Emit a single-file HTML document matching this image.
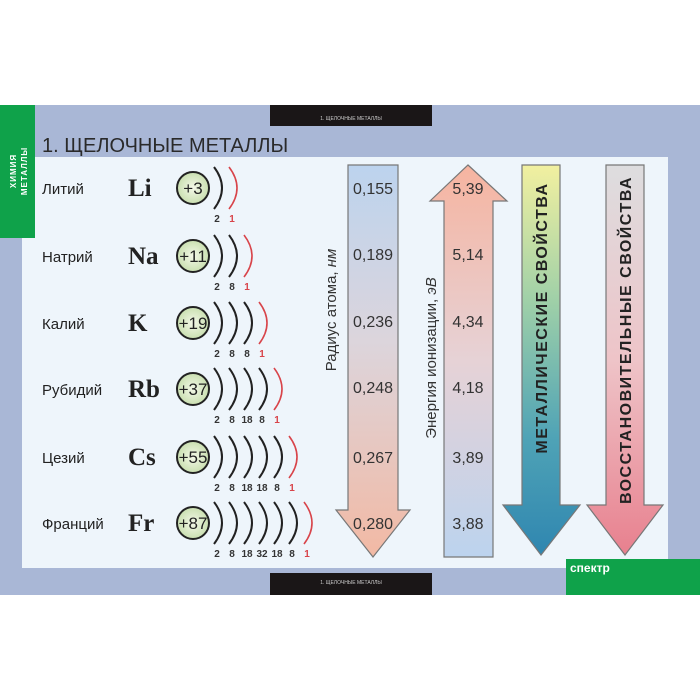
<!DOCTYPE html>
<html><head><meta charset="utf-8"><style>body{margin:0;background:#fff}svg{display:block}</style></head><body>
<svg width="700" height="700" xmlns="http://www.w3.org/2000/svg" xmlns:xlink="http://www.w3.org/1999/xlink" font-family="Liberation Sans, sans-serif">
<defs>
<linearGradient id="g1" x1="0" y1="0" x2="0" y2="1"><stop offset="0" stop-color="#bcd3ee"/><stop offset="0.45" stop-color="#dcd5dc"/><stop offset="1" stop-color="#f2b9a4"/></linearGradient>
<linearGradient id="g2" x1="0" y1="0" x2="0" y2="1"><stop offset="0" stop-color="#f6b4a0"/><stop offset="0.5" stop-color="#e6d2d6"/><stop offset="1" stop-color="#bcd3ee"/></linearGradient>
<linearGradient id="g3" x1="0" y1="0" x2="0" y2="1"><stop offset="0" stop-color="#f2f0a0"/><stop offset="0.35" stop-color="#9fd0a8"/><stop offset="0.7" stop-color="#4fa3b6"/><stop offset="1" stop-color="#2f86b0"/></linearGradient>
<linearGradient id="g4" x1="0" y1="0" x2="0" y2="1"><stop offset="0" stop-color="#dddddf"/><stop offset="0.5" stop-color="#eec4c8"/><stop offset="1" stop-color="#e8808e"/></linearGradient>
<radialGradient id="nuc"><stop offset="0" stop-color="#f4f8e8"/><stop offset="1" stop-color="#c9dfb0"/></radialGradient>
<path id="a" d="M0 -21 Q16 0 0 21" fill="none" stroke="#222" stroke-width="2"/>
<path id="r" d="M0 -21 Q16 0 0 21" fill="none" stroke="#d8444a" stroke-width="1.6"/>
<circle id="n" r="16" fill="url(#nuc)" stroke="#222" stroke-width="2"/>
</defs>
<rect x="0" y="105" width="700" height="490" fill="#a9b7d6"/>
<rect x="22" y="157" width="646" height="411" fill="#eef5fb"/>
<rect x="0" y="105" width="35" height="133" fill="#0fa24a"/>
<text transform="translate(16,171) rotate(-90)" font-size="8" fill="#fff" font-weight="bold" text-anchor="middle" letter-spacing="1">ХИМИЯ</text>
<text transform="translate(27,171) rotate(-90)" font-size="8" fill="#fff" font-weight="bold" text-anchor="middle" letter-spacing="1">МЕТАЛЛЫ</text>
<rect x="270" y="105" width="162" height="21" fill="#1a1617"/>
<text x="351" y="120" font-size="5" fill="#ccc" text-anchor="middle">1. ЩЕЛОЧНЫЕ МЕТАЛЛЫ</text>
<rect x="270" y="573" width="162" height="22" fill="#1a1617"/>
<text x="351" y="584" font-size="5" fill="#ccc" text-anchor="middle">1. ЩЕЛОЧНЫЕ МЕТАЛЛЫ</text>
<rect x="566" y="559" width="134" height="36" fill="#0fa24a"/>
<text x="570" y="572" font-size="12" fill="#fff" font-weight="bold">спектр</text>
<text x="42" y="152" font-size="20" fill="#2a2a2a">1. ЩЕЛОЧНЫЕ  МЕТАЛЛЫ</text>

<g font-size="15" fill="#222">
<text x="42" y="194">Литий</text><text x="42" y="262">Натрий</text><text x="42" y="329">Калий</text>
<text x="42" y="395">Рубидий</text><text x="42" y="463">Цезий</text><text x="42" y="529">Франций</text>
</g>
<g font-family="Liberation Serif, serif" font-weight="bold" font-size="25" fill="#222">
<text x="128" y="196">Li</text><text x="128" y="264">Na</text><text x="128" y="331">K</text>
<text x="128" y="397">Rb</text><text x="128" y="465">Cs</text><text x="128" y="531">Fr</text>
</g>

<g font-size="17" text-anchor="middle" fill="#222">
<use xlink:href="#n" x="193" y="188"/><text x="193" y="194">+3</text>
<use xlink:href="#n" x="193" y="256"/><text x="193" y="262">+11</text>
<use xlink:href="#n" x="193" y="323"/><text x="193" y="329">+19</text>
<use xlink:href="#n" x="193" y="389"/><text x="193" y="395">+37</text>
<use xlink:href="#n" x="193" y="457"/><text x="193" y="463">+55</text>
<use xlink:href="#n" x="193" y="523"/><text x="193" y="529">+87</text>
</g>
<!-- arcs -->
<use xlink:href="#a" x="214" y="188"/><use xlink:href="#r" x="229" y="188"/>
<use xlink:href="#a" x="214" y="256"/><use xlink:href="#a" x="229" y="256"/><use xlink:href="#r" x="244" y="256"/>
<use xlink:href="#a" x="214" y="323"/><use xlink:href="#a" x="229" y="323"/><use xlink:href="#a" x="244" y="323"/><use xlink:href="#r" x="259" y="323"/>
<use xlink:href="#a" x="214" y="389"/><use xlink:href="#a" x="229" y="389"/><use xlink:href="#a" x="244" y="389"/><use xlink:href="#a" x="259" y="389"/><use xlink:href="#r" x="274" y="389"/>
<use xlink:href="#a" x="214" y="457"/><use xlink:href="#a" x="229" y="457"/><use xlink:href="#a" x="244" y="457"/><use xlink:href="#a" x="259" y="457"/><use xlink:href="#a" x="274" y="457"/><use xlink:href="#r" x="289" y="457"/>
<use xlink:href="#a" x="214" y="523"/><use xlink:href="#a" x="229" y="523"/><use xlink:href="#a" x="244" y="523"/><use xlink:href="#a" x="259" y="523"/><use xlink:href="#a" x="274" y="523"/><use xlink:href="#a" x="289" y="523"/><use xlink:href="#r" x="304" y="523"/>
<g font-size="10" font-weight="bold" text-anchor="middle" fill="#333">
<text x="217" y="222">2</text><text x="232" y="222" fill="#d8444a">1</text>
<text x="217" y="290">2</text><text x="232" y="290">8</text><text x="247" y="290" fill="#d8444a">1</text>
<text x="217" y="357">2</text><text x="232" y="357">8</text><text x="247" y="357">8</text><text x="262" y="357" fill="#d8444a">1</text>
<text x="217" y="423">2</text><text x="232" y="423">8</text><text x="247" y="423">18</text><text x="262" y="423">8</text><text x="277" y="423" fill="#d8444a">1</text>
<text x="217" y="491">2</text><text x="232" y="491">8</text><text x="247" y="491">18</text><text x="262" y="491">18</text><text x="277" y="491">8</text><text x="292" y="491" fill="#d8444a">1</text>
<text x="217" y="557">2</text><text x="232" y="557">8</text><text x="247" y="557">18</text><text x="262" y="557">32</text><text x="277" y="557">18</text><text x="292" y="557">8</text><text x="307" y="557" fill="#d8444a">1</text>
</g>

<path d="M348 165 H398 V510 H410 L373 557 L336 510 H348 Z" fill="url(#g1)" stroke="#777" stroke-width="1.2"/>
<path d="M468 165 L507 201 H493 V557 H444 V201 H430 Z" fill="url(#g2)" stroke="#777" stroke-width="1.2"/>
<path d="M522 165 H560 V505 H580 L541 555 L503 505 H522 Z" fill="url(#g3)" stroke="#777" stroke-width="1.2"/>
<path d="M606 165 H644 V505 H663 L625 555 L587 505 H606 Z" fill="url(#g4)" stroke="#777" stroke-width="1.2"/>
<g font-size="16" fill="#333" text-anchor="middle">
<text x="373" y="194">0,155</text><text x="373" y="260">0,189</text><text x="373" y="327">0,236</text>
<text x="373" y="393">0,248</text><text x="373" y="463">0,267</text><text x="373" y="529">0,280</text>
<text x="468" y="194">5,39</text><text x="468" y="260">5,14</text><text x="468" y="327">4,34</text>
<text x="468" y="393">4,18</text><text x="468" y="463">3,89</text><text x="468" y="529">3,88</text>
</g>
<text transform="translate(336,310) rotate(-90)" font-size="15" fill="#333" text-anchor="middle">Радиус атома, <tspan font-style="italic">нм</tspan></text>
<text transform="translate(436,358) rotate(-90)" font-size="15" fill="#333" text-anchor="middle">Энергия ионизации, <tspan font-style="italic">эВ</tspan></text>
<text transform="translate(547,318) rotate(-90)" font-size="16" font-weight="bold" fill="#222" text-anchor="middle" letter-spacing="1.5">МЕТАЛЛИЧЕСКИЕ  СВОЙСТВА</text>
<text transform="translate(631,340) rotate(-90)" font-size="16" font-weight="bold" fill="#222" text-anchor="middle" letter-spacing="1.5">ВОССТАНОВИТЕЛЬНЫЕ  СВОЙСТВА</text>
</svg>
</body></html>
